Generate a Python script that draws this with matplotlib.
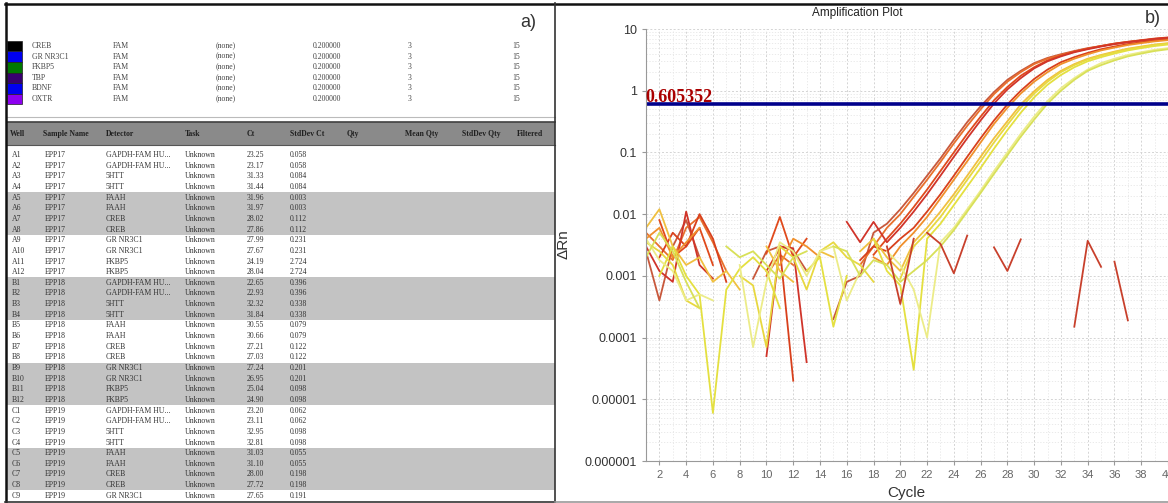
import numpy as np
import matplotlib.pyplot as plt
from matplotlib.patches import Rectangle
from matplotlib.ticker import NullFormatter

N = np.nan

# ---- panel a: detector list ----
det_names = ['CREB', 'GR NR3C1', 'FKBP5', 'TBP', 'BDNF', 'OXTR']
det_colors = ['#000000', '#0000f0', '#007800', '#380070', '#0000f0', '#8c00f0']
det_reporter = ['FAM', 'FAM', 'FAM', 'FAM', 'FAM', 'FAM']
det_quencher = ['(none)', '(none)', '(none)', '(none)', '(none)', '(none)']
det_threshold = ['0.200000', '0.200000', '0.200000', '0.200000', '0.200000', '0.200000']
det_base_start = ['3', '3', '3', '3', '3', '3']
det_base_end = ['15', '15', '15', '15', '15', '15']

# ---- panel a: results table ----
header = ['Well', 'Sample Name', 'Detector', 'Task', 'Ct', 'StdDev Ct',
          'Qty', 'Mean Qty', 'StdDev Qty', 'Filtered']
wells = ['A1', 'A2', 'A3', 'A4', 'A5', 'A6', 'A7', 'A8', 'A9', 'A10', 'A11', 'A12',
         'B1', 'B2', 'B3', 'B4', 'B5', 'B6', 'B7', 'B8', 'B9', 'B10', 'B11', 'B12',
         'C1', 'C2', 'C3', 'C4', 'C5', 'C6', 'C7', 'C8', 'C9']
samples = ['EPP17'] * 12 + ['EPP18'] * 12 + ['EPP19'] * 9
gapdh = 'GAPDH-FAM HU...'
plate_row = [gapdh, gapdh, '5HTT', '5HTT', 'FAAH', 'FAAH', 'CREB', 'CREB',
             'GR NR3C1', 'GR NR3C1', 'FKBP5', 'FKBP5']
detectors = plate_row + plate_row + plate_row[:9]
task = 'Unknown'
ct_values = [23.25, 23.17, 31.33, 31.44, 31.96, 31.97, 28.02, 27.86, 27.99, 27.67, 24.19, 28.04,
             22.65, 22.93, 32.32, 31.84, 30.55, 30.66, 27.21, 27.03, 27.24, 26.95, 25.04, 24.90,
             23.20, 23.11, 32.95, 32.81, 31.03, 31.10, 28.00, 27.72, 27.65]
sd_ct = [0.058, 0.058, 0.084, 0.084, 0.003, 0.003, 0.112, 0.112, 0.231, 0.231, 2.724, 2.724,
         0.396, 0.396, 0.338, 0.338, 0.079, 0.079, 0.122, 0.122, 0.201, 0.201, 0.098, 0.098,
         0.062, 0.062, 0.098, 0.098, 0.055, 0.055, 0.198, 0.198, 0.191]

# ---- panel b: amplification plot (delta Rn per cycle) ----
cycles = np.arange(1, 41)
threshold = 0.605352
amp_1 = [0.0025, 0.0004, 0.0030, 0.0080, 0.0020, N, N, N, 0.0009, 0.0025, 0.0030, 0.0026, 0.0012, N,
         0.0002, 0.0008, 0.0010, 0.0050, 0.0070, 0.0120, 0.022, 0.042, 0.08, 0.16, 0.31, 0.56, 0.95,
         1.5, 2.1, 2.8, 3.4, 3.9, 4.4, 4.9, 5.3, 5.8, 6.2, 6.5, 6.9, 7.2]
amp_2 = [0.0050, 0.0030, 0.0018, 0.0060, 0.0090, 0.0035, 0.0012, N, N, 0.0010, 0.0022, 0.0015, N, N,
         N, N, 0.0015, 0.0030, 0.0060, 0.0100, 0.019, 0.036, 0.07, 0.14, 0.27, 0.5, 0.88, 1.4, 2.0,
         2.7, 3.3, 3.8, 4.3, 4.8, 5.3, 5.7, 6.1, 6.5, 6.8, 7.1]
amp_3 = [N, 0.0080, 0.0020, 0.0030, 0.0060, 0.0015, N, N, N, 0.0023, 0.0090, 0.0020, 0.0040, N, N,
         N, N, 0.0022, 0.0040, 0.0070, 0.013, 0.025, 0.05, 0.1, 0.2, 0.38, 0.7, 1.15, 1.75, 2.4,
         3.1, 3.7, 4.3, 4.8, 5.3, 5.8, 6.2, 6.6, 7.0, 7.3]
amp_4 = [0.0030, 0.0012, 0.0008, 0.0110, 0.0015, 0.0009, N, N, N, 0.00005, 0.0030, 0.0028, 0.00004,
         N, N, 0.0075, 0.0035, 0.0075, 0.0035, 0.006, 0.011, 0.021, 0.042, 0.085, 0.17, 0.33, 0.62,
         1.05, 1.6, 2.3, 3.0, 3.6, 4.2, 4.7, 5.2, 5.7, 6.1, 6.5, 6.9, 7.2]
amp_5 = [N, 0.0020, 0.0050, 0.0030, 0.0100, 0.0040, 0.0008, N, N, 0.0012, 0.0028, 0.00002, N, N, N,
         N, 0.0018, 0.0030, 0.0025, 0.004, 0.006, 0.011, 0.021, 0.042, 0.085, 0.17, 0.33, 0.6, 1.0,
         1.55, 2.2, 2.9, 3.5, 4.1, 4.7, 5.2, 5.7, 6.1, 6.5, 6.8]
amp_6 = [0.0040, 0.0060, 0.0020, 0.0035, 0.0060, N, N, N, N, N, 0.0015, 0.0040, 0.0030, 0.0020, N,
         N, N, 0.0020, 0.0015, 0.003, 0.005, 0.009, 0.018, 0.036, 0.072, 0.145, 0.29, 0.53, 0.9,
         1.4, 2.0, 2.7, 3.3, 3.9, 4.5, 5.0, 5.5, 5.9, 6.3, 6.6]
amp_7 = [0.0060, 0.0120, 0.0030, 0.0015, 0.0020, 0.0008, 0.0012, 0.0006, N, 0.0030, 0.0012, 0.0008,
         N, 0.0025, 0.0020, N, 0.0025, 0.0040, 0.0020, 0.0012, 0.0035, 0.006, 0.011, 0.021, 0.042,
         0.085, 0.17, 0.32, 0.6, 0.98, 1.5, 2.1, 2.7, 3.3, 3.8, 4.3, 4.8, 5.2, 5.6, 5.9]
amp_8 = [0.0035, 0.0025, 0.0015, 0.0004, 0.0003, N, N, 0.0010, 0.0007, 0.00007, 0.0030, 0.0020,
         0.0006, 0.0025, 0.0035, 0.0020, 0.0015, 0.0008, N, 0.0009, 0.003, 0.005, 0.009, 0.018,
         0.036, 0.072, 0.145, 0.28, 0.53, 0.9, 1.4, 2.0, 2.6, 3.2, 3.7, 4.2, 4.7, 5.1, 5.5, 5.8]
amp_9 = [N, 0.0010, 0.0030, 0.0010, 0.0005, 0.000006, 0.0006, 0.0013, 0.0020, 0.0012, 0.0003, N,
         0.0012, 0.0020, 0.00015, 0.0010, N, 0.0040, 0.0012, 0.0007, 0.00003, 0.0040, 0.007, 0.014,
         0.028, 0.056, 0.115, 0.23, 0.44, 0.78, 1.25, 1.8, 2.4, 3.0, 3.5, 4.0, 4.5, 4.9, 5.3, 5.6]
amp_10 = [0.0040, 0.0018, 0.0012, 0.0004, 0.0005, 0.0004, N, 0.0015, 0.00007, 0.0008, 0.0035, 0.0025,
          0.0010, 0.0025, 0.0030, 0.0004, 0.0012, N, 0.0025, 0.0015, 0.0006, 0.0001, 0.0035, 0.006,
          0.012, 0.024, 0.05, 0.1, 0.2, 0.38, 0.68, 1.1, 1.6, 2.2, 2.8, 3.3, 3.8, 4.2, 4.6, 4.9]
amp_11 = [0.0020, 0.0050, 0.0025, 0.0008, 0.0003, N, 0.0030, 0.0020, 0.0025, 0.0015, 0.0009, 0.0020,
          0.0025, N, 0.0030, 0.0025, 0.0010, 0.0018, 0.0015, 0.0008, 0.0012, 0.0018, 0.003, 0.0055,
          0.011, 0.022, 0.045, 0.09, 0.18, 0.34, 0.62, 1.0, 1.5, 2.1, 2.6, 3.1, 3.6, 4.0, 4.4, 4.7]
amp_curves = [amp_1, amp_2, amp_3, amp_4, amp_5, amp_6, amp_7, amp_8, amp_9, amp_10, amp_11]
amp_colors = ['#c8583c', '#e8702c', '#e04a1c', '#d0342a', '#d8401c', '#f0902c',
              '#f0c040', '#e8d840', '#e4e040', '#ecec88', '#d8e058']

# loose noise fragments (cycle, delta Rn)
frag_cycles = [[19, 20, 21], [22, 23, 24, 25], [27, 28, 29], [33, 34, 35], [36, 37]]
frag_values = [[0.0030, 0.00035, 0.0040], [0.0050, 0.0033, 0.0011, 0.0045],
               [0.0029, 0.0012, 0.0039], [0.00015, 0.0037, 0.0014], [0.0017, 0.00019]]
frag_color = '#c8402c'

fig = plt.figure(figsize=(11.68, 5.03), dpi=100)

# overlay in pixel coordinates for panel a and the frame
ax_a = fig.add_axes([0, 0, 1, 1])
ax_a.set_xlim(0, 1168)
ax_a.set_ylim(503, 0)
ax_a.axis('off')

serif = 'Liberation Serif'
sans = 'Liberation Sans'
fs = 5.6

# detector legend
leg_cols = [32, 113, 216, 313, 408, 512]
for i in range(len(det_names)):
    y = 46 + 10.6 * i
    ax_a.add_patch(Rectangle((7, y - 5.3), 15, 10.6, fc=det_colors[i], ec='#202020', lw=0.5))
    row = [det_names[i], det_reporter[i], det_quencher[i], det_threshold[i],
           det_base_start[i], det_base_end[i]]
    for x, s in zip(leg_cols, row):
        ax_a.text(x, y, s, fontsize=fs, family=serif, color='#444444', va='center')

ax_a.plot([7, 555], [117, 117], color='#bbbbbb', lw=0.8)

# header bar
ax_a.add_patch(Rectangle((7, 122), 548, 23, fc='#8a8a8a', ec='none'))
ax_a.plot([7, 555], [122, 122], color='#404040', lw=1.2)
ax_a.plot([7, 555], [145, 145], color='#555555', lw=0.8)
head_x = [10, 43, 106, 185, 247, 290, 347, 405, 462, 517]
for x, s in zip(head_x, header):
    ax_a.text(x, 133.5, s, fontsize=fs, family=serif, fontweight='bold', color='#202020', va='center')

# table rows with grey bands every 4 wells
dy = 10.65
for b in range(9):
    if b % 2 == 1:
        ax_a.add_patch(Rectangle((7, 155 + dy * 4 * b - dy / 2), 548, 4 * dy, fc='#c3c3c3', ec='none'))
data_x = [12, 45, 106, 185, 247, 290]
for i in range(len(wells)):
    y = 155 + dy * i
    row = [wells[i], samples[i], detectors[i], task, '%.2f' % ct_values[i], '%.3f' % sd_ct[i]]
    for x, s in zip(data_x, row):
        ax_a.text(x, y, s, fontsize=fs, family=serif, color='#333333', va='center')

ax_a.text(520, 22, 'a)', fontsize=13, family=sans, color='#333333', va='center')

# frame lines
ax_a.plot([5, 1168], [3.5, 3.5], color='#111111', lw=1.8, clip_on=False)
ax_a.plot([6, 6], [3, 502], color='#111111', lw=1.8, clip_on=False)
ax_a.plot([5, 555], [502, 502], color='#333333', lw=1.2, clip_on=False)
ax_a.plot([555, 555], [3, 503], color='#333333', lw=1.2, clip_on=False)
ax_a.plot([555, 1168], [502, 502], color='#999999', lw=1.2, clip_on=False)

# panel b labels
ax_a.text(857, 13, 'Amplification Plot', fontsize=8.5, family=sans, color='#222222',
          ha='center', va='center')
ax_a.text(1145, 18, 'b)', fontsize=13, family=sans, color='#333333', va='center')
ax_a.text(906, 493, 'Cycle', fontsize=11, family=sans, color='#333333', ha='center', va='center')
ax_a.text(564, 244, '\u0394Rn', fontsize=11, family=sans, color='#333333', ha='center',
          va='center', rotation=90)

# amplification axes
ax = fig.add_axes([646 / 1168, 42 / 503, 522 / 1168, 432 / 503])
ax.set_yscale('log')
for vals, col in zip(amp_curves, amp_colors):
    ax.plot(cycles, vals, color=col, lw=1.3)
for cx, vy in zip(frag_cycles, frag_values):
    ax.plot(cx, vy, color=frag_color, lw=1.3)

ax.axhline(threshold, color='#00008b', lw=2.6)
ax.text(0.95, 0.66, '%.6f' % threshold, fontsize=13, family=serif, fontweight='bold',
        color='#aa0000', va='baseline', ha='left', clip_on=False)

ax.set_xlim(1, 40)
ax.set_ylim(1e-6, 10)
ax.set_xticks(range(2, 41, 2))
ax.set_xticks(range(1, 41), minor=True)
yt = [1e-6, 1e-5, 1e-4, 1e-3, 1e-2, 1e-1, 1, 10]
ax.set_yticks(yt)
ax.set_yticklabels(['0.000001', '0.00001', '0.0001', '0.001', '0.01', '0.1', '1', '10'])
ax.yaxis.set_minor_formatter(NullFormatter())
ax.tick_params(axis='x', which='major', labelsize=8, labelcolor='#666666', color='#999999', length=3)
ax.tick_params(axis='x', which='minor', length=0)
ax.tick_params(axis='y', which='major', labelsize=9, labelcolor='#333333', color='#999999', length=3)
ax.tick_params(axis='y', which='minor', length=0)
for lab in ax.get_xticklabels() + ax.get_yticklabels():
    lab.set_family(sans)

ax.grid(True, which='major', color='#d4d4d4', ls=(0, (2, 2)), lw=0.7)
ax.grid(True, which='minor', color='#e6e6e6', ls=(0, (1.5, 2)), lw=0.6)
ax.set_axisbelow(True)
for side in ['top', 'right']:
    ax.spines[side].set_visible(False)
for side in ['left', 'bottom']:
    ax.spines[side].set_color('#999999')

fig.savefig('out.png', dpi=100)
